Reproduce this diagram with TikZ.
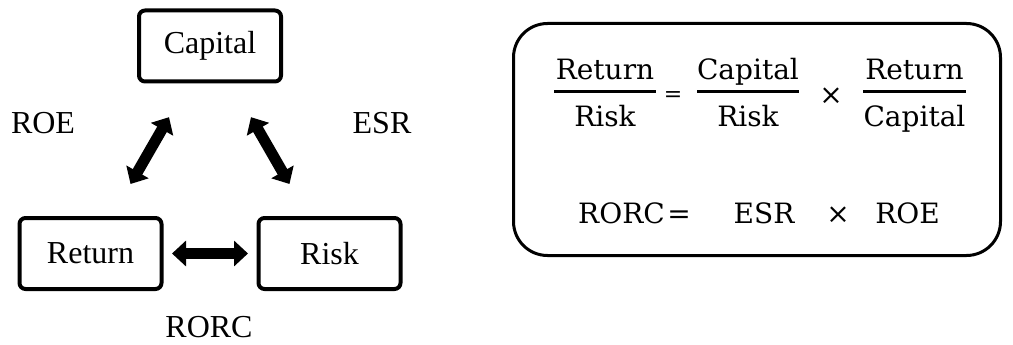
\documentclass[tikz,border=0pt]{standalone}
\usepackage{fontspec}
\setmainfont{Liberation Serif}
\newfontfamily\eqfont{DejaVu Serif}
\usetikzlibrary{arrows.meta,calc}

\tikzset{
  box/.style={draw, line width=4pt, rounded corners=6pt, minimum width=142pt,
    minimum height=71pt, inner sep=0pt, font=\fontsize{32}{38}\selectfont},
  lbl/.style={inner sep=0pt, font=\fontsize{32}{38}\selectfont},
  eq/.style={inner sep=0pt, anchor=base, font=\eqfont\fontsize{28}{33}\selectfont},
  fbar/.style={line width=3pt},
  link/.style={line width=11pt,
    {Triangle[length=14pt,width=25pt]}-{Triangle[length=14pt,width=25pt]}},
}

\begin{document}
\begin{tikzpicture}[x=1pt,y=-1pt]
\useasboundingbox (0,0) rectangle (1013,345);

% the three quantities
\node[box] (cap) at (210,46) {Capital};
\node[box] (ret) at (90.5,253.5) {Return};
\node[box] (risk) at (329.5,253.5) {Risk};

% ratios linking them
\draw[link] ($(cap.center)!0.343!(ret.center)$) -- ($(cap.center)!0.665!(ret.center)$);
\draw[link] ($(cap.center)!0.343!(risk.center)$) -- ($(cap.center)!0.665!(risk.center)$);
\draw[link] ($(ret.center)!0.341!(risk.center)$) -- ($(ret.center)!0.659!(risk.center)$);

\node[lbl] (roe) at (43,123) {ROE};
\node[lbl] (esr) at (382,123) {ESR};
\node[lbl] (rorc) at (209,327) {RORC};

% decomposition
\node[draw, line width=3pt, rounded corners=34pt, minimum width=487pt,
  minimum height=232pt] (eqbox) at (757,139.5) {};

\node[eq] (n1) at (605,80) {Return};
\node[eq] (d1) at (605,126) {Risk};
\draw[fbar] (554,92) -- (656,92);
\node[eq, font=\eqfont\fontsize{22}{26}\selectfont] (e1) at (673,102) {=};
\node[eq] (n2) at (748,80) {Capital};
\node[eq] (d2) at (748,126) {Risk};
\draw[fbar] (697,92) -- (799,92);
\node[eq] (t1) at (831,104) {×};
\node[eq] (n3) at (914.5,80) {Return};
\node[eq] (d3) at (914.5,126) {Capital};
\draw[fbar] (863,92) -- (966,92);

\node[eq] (rorcq) at (621.5,223) {RORC};
\node[eq] (e2) at (679,223) {=};
\node[eq] (esrq) at (764,223) {ESR};
\node[eq] (t2) at (838,223) {×};
\node[eq] (roeq) at (907.5,223) {ROE};
\end{tikzpicture}
\end{document}
